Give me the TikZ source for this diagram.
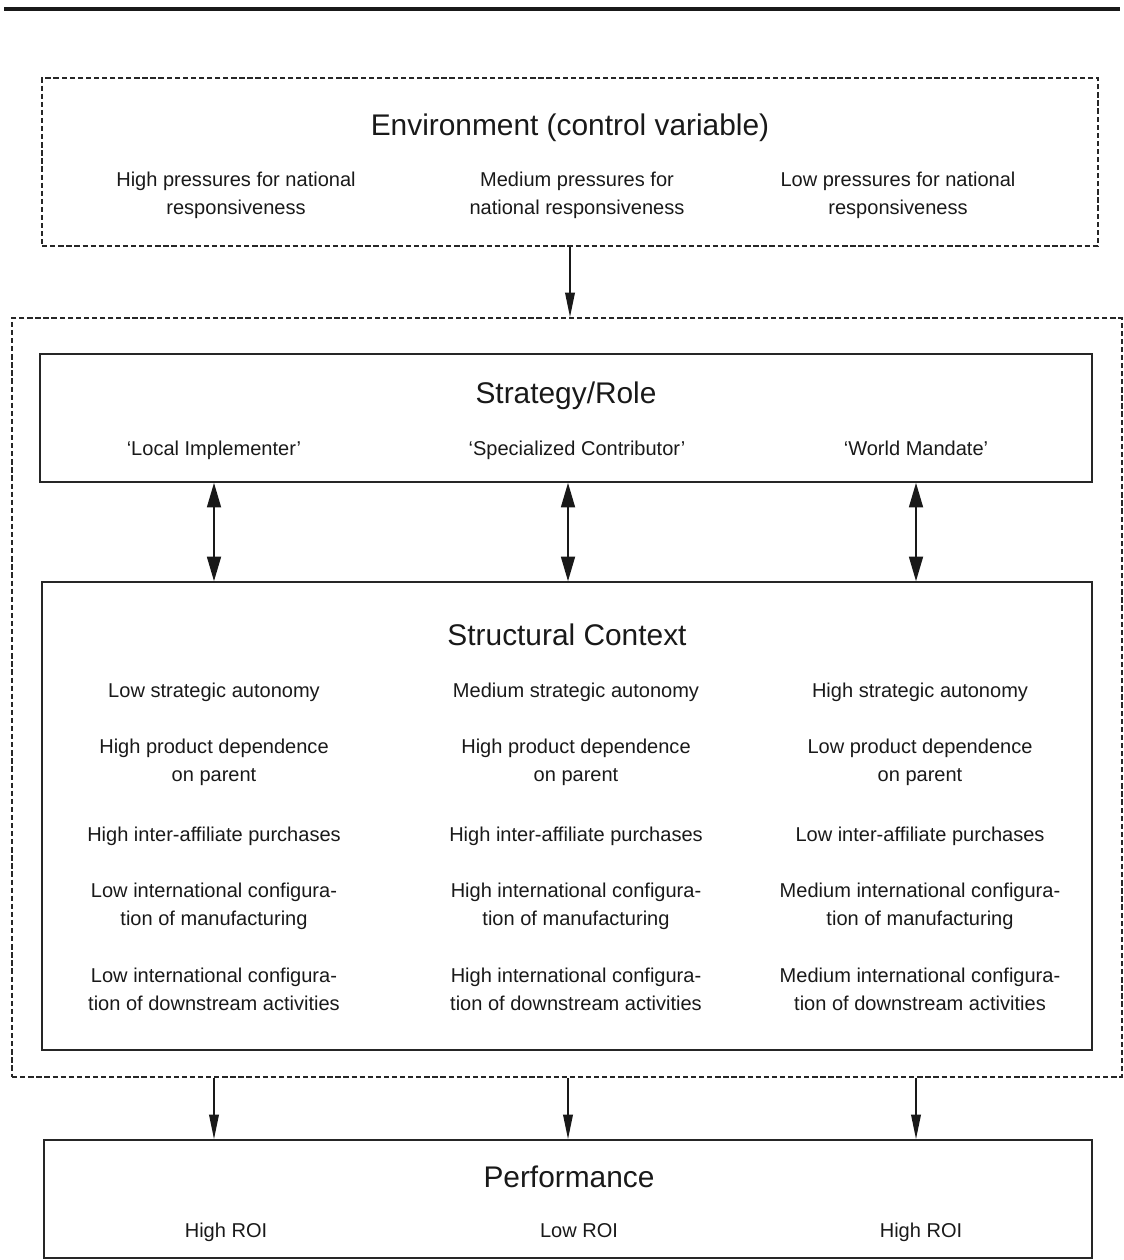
\documentclass[tikz,border=0pt]{standalone}
\usepackage{fontspec}
\setmainfont{Liberation Sans}
\usetikzlibrary{arrows.meta}
\tikzset{
  box/.style={draw=black!85, line width=1pt, inner sep=0pt},
  dashbox/.style={draw=black!85, line width=1.1pt, dash pattern=on 3pt off 1.6pt, inner sep=0pt},
  head/.style={text=black!90, font=\fontsize{17}{20}\selectfont, execute at begin node=\strut},
  item/.style={text=black!90, align=center, font=\fontsize{11.4}{15.9}\selectfont,
    execute at begin node=\strut, execute at end node=\strut},
  arr/.style={draw=black!90, line width=0.9pt, -{Triangle[length=14pt,width=5.5pt]}},
  darr/.style={draw=black!90, line width=0.9pt, {Triangle[length=14pt,width=8pt]}-{Triangle[length=14pt,width=8pt]}},
}
\begin{document}
\begin{tikzpicture}[x=0.02cm, y=-0.02cm]
      \useasboundingbox (0,0) rectangle (1124,1260);
      \draw[line width=2.3pt, black!90] (4,9) -- (1120,9);
      %
      % environment
      \node[dashbox, minimum width=21.12cm, minimum height=3.36cm] (env) at (570,162) {};
      \node[head] (envT) at (570,128) {Environment (control variable)};
      \node[item] (envA) at (236,197) {High pressures for national\\responsiveness};
      \node[item] (envB) at (577,197) {Medium pressures for\\national responsiveness};
      \node[item] (envC) at (898,197) {Low pressures for national\\responsiveness};
      %
      % subsidiary
      \node[dashbox, minimum width=22.2cm, minimum height=15.18cm] (core) at (567,697.5) {};
      \draw[arr] (env.south) -- (env.south |- core.north);
      %
      \node[box, minimum width=21.04cm, minimum height=2.56cm] (strat) at (566,418) {};
      \node[head] (stratT) at (566,396) {Strategy/Role};
      \node[item] (stA) at (214,450) {`Local Implementer'};
      \node[item] (stB) at (577,450) {`Specialized Contributor'};
      \node[item] (stC) at (916,450) {`World Mandate'};
      %
      \node[box, minimum width=21.0cm, minimum height=9.36cm] (ctx) at (567,816) {};
      \node[head] (ctxT) at (567,638) {Structural Context};
      %
      \coordinate (colA) at (214,0);
      \coordinate (colB) at (568,0);
      \coordinate (colC) at (916,0);
      \draw[darr] (colA |- strat.south) -- (colA |- ctx.north);
      \draw[darr] (colB |- strat.south) -- (colB |- ctx.north);
      \draw[darr] (colC |- strat.south) -- (colC |- ctx.north);
      %
      \node[item] (scA1) at (214,692) {Low strategic autonomy};
      \node[item] (scA2) at (214,764) {High product dependence\\on parent};
      \node[item] (scA3) at (214,836) {High inter-affiliate purchases};
      \node[item] (scA4) at (214,908) {Low international configura-\\tion of manufacturing};
      \node[item] (scA5) at (214,993) {Low international configura-\\tion of downstream activities};
      %
      \node[item] (scB1) at (576,692) {Medium strategic autonomy};
      \node[item] (scB2) at (576,764) {High product dependence\\on parent};
      \node[item] (scB3) at (576,836) {High inter-affiliate purchases};
      \node[item] (scB4) at (576,908) {High international configura-\\tion of manufacturing};
      \node[item] (scB5) at (576,993) {High international configura-\\tion of downstream activities};
      %
      \node[item] (scC1) at (920,692) {High strategic autonomy};
      \node[item] (scC2) at (920,764) {Low product dependence\\on parent};
      \node[item] (scC3) at (920,836) {Low inter-affiliate purchases};
      \node[item] (scC4) at (920,908) {Medium international configura-\\tion of manufacturing};
      \node[item] (scC5) at (920,993) {Medium international configura-\\tion of downstream activities};
      %
      % performance
      \node[box, minimum width=20.96cm, minimum height=2.36cm] (perf) at (568,1199) {};
      \node[head] (perfT) at (569,1180) {Performance};
      \node[item] (pfA) at (226,1232) {High ROI};
      \node[item] (pfB) at (579,1232) {Low ROI};
      \node[item] (pfC) at (921,1232) {High ROI};
      %
      \draw[arr] (colA |- core.south) -- (colA |- perf.north);
      \draw[arr] (colB |- core.south) -- (colB |- perf.north);
      \draw[arr] (colC |- core.south) -- (colC |- perf.north);
    \end{tikzpicture}
\end{document}
